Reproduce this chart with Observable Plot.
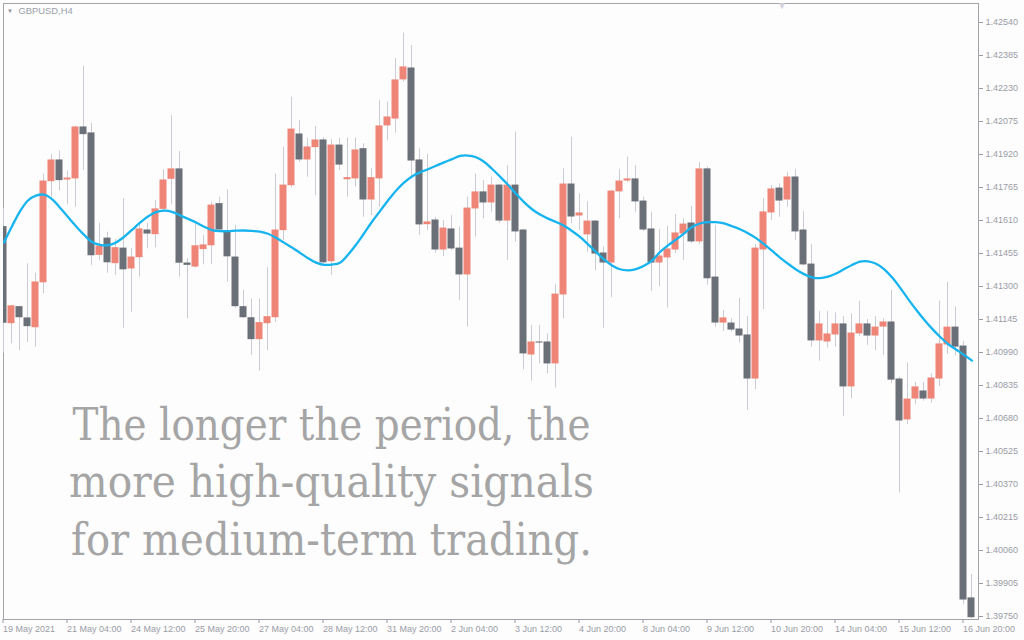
<!DOCTYPE html>
<html><head><meta charset="utf-8">
<script src="https://cdn.jsdelivr.net/npm/d3@7"></script>
<script src="https://cdn.jsdelivr.net/npm/@observablehq/plot@0.6"></script>
<style>
html,body{margin:0;padding:0;background:#fdfdfe;}
#chart{width:1024px;height:640px;overflow:hidden}
</style></head><body><div id="chart"></div>
<script>
const symbol = "GBPUSD,H4";
const captionLines = ["The longer the period, the", "more high-quality signals", "for medium-term trading."];
const dateLabelBars = [0,8,16,24,32,40,48,56,64,72,80,88,96,104,112,120];
const dateLabels = ["19 May 2021","21 May 04:00","24 May 12:00","25 May 20:00","27 May 04:00","28 May 12:00","31 May 20:00","2 Jun 04:00","3 Jun 12:00","4 Jun 20:00","8 Jun 04:00","9 Jun 12:00","10 Jun 20:00","14 Jun 04:00","15 Jun 12:00","16 Jun 20:00"];
const priceTicks = [1.39750,1.39905,1.40060,1.40215,1.40370,1.40525,1.40680,1.40835,1.40990,1.41145,1.41300,1.41455,1.41610,1.41765,1.41920,1.42075,1.42230,1.42385,1.42540];

const open = [
1.41579,1.41123,1.41203,1.41150,1.41104,1.41315,1.41790,1.41892,1.41798,1.41803,
1.42047,1.42019,1.41444,1.41525,1.41405,1.41478,1.41380,1.41433,1.41563,1.41541,
1.41660,1.41801,1.41850,1.41408,1.41389,1.41471,1.41489,1.41687,1.41560,1.41436,
1.41203,1.41151,1.41048,1.41123,1.41151,1.41560,1.41771,1.42014,1.41892,1.41950,
1.41986,1.41414,1.41962,1.41799,1.41803,1.41945,1.41704,1.41803,1.42052,1.42084,
1.42268,1.42324,1.41892,1.41588,1.41610,1.41469,1.41568,1.41478,1.41352,1.41662,
1.41742,1.41690,1.41774,1.41605,1.41774,1.41563,1.40976,1.41037,1.41037,1.40934,
1.41258,1.41779,1.41629,1.41540,1.41605,1.41455,1.41408,1.41742,1.41793,1.41803,
1.41699,1.41568,1.41408,1.41432,1.41469,1.41544,1.41596,1.41507,1.41850,1.41342,
1.41126,1.41126,1.41098,1.41070,1.40863,1.41469,1.41643,1.41760,1.41704,1.41812,
1.41563,1.41403,1.41042,1.41037,1.41070,1.41122,1.40826,1.41075,1.41122,1.41065,
1.41107,1.41131,1.40863,1.40671,1.40769,1.40807,1.40769,1.40863,1.41023,1.41107,
1.41018,1.39835];
const high = [
1.41665,1.41211,1.41207,1.41407,1.41362,1.41829,1.41920,1.41936,1.41842,1.42052,
1.42333,1.42066,1.41597,1.41555,1.41521,1.41712,1.41478,1.41595,1.41596,1.41704,
1.41848,1.42103,1.41934,1.41432,1.41595,1.41540,1.41696,1.41719,1.41754,1.41587,
1.41281,1.41242,1.41242,1.41389,1.41829,1.41954,1.42189,1.42080,1.41996,1.42052,
1.42000,1.41990,1.41996,1.41998,1.41998,1.41970,1.41853,1.42174,1.42166,1.42370,
1.42490,1.42432,1.41947,1.41920,1.41625,1.41610,1.41633,1.41579,1.41719,1.41829,
1.41798,1.41813,1.41779,1.41868,1.42025,1.41568,1.41117,1.41117,1.41078,1.41309,
1.41853,1.42001,1.41736,1.41699,1.41610,1.41485,1.41751,1.41850,1.41907,1.41868,
1.41719,1.41649,1.41568,1.41582,1.41638,1.41618,1.41676,1.41882,1.41861,1.41587,
1.41187,1.41148,1.41245,1.41159,1.41497,1.41712,1.41774,1.41782,1.41835,1.41850,
1.41652,1.41497,1.41183,1.41183,1.41176,1.41159,1.41172,1.41230,1.41146,1.41159,
1.41148,1.41281,1.40874,1.40940,1.40850,1.40850,1.40891,1.41231,1.41320,1.41203,
1.41042,1.39947];
const low = [
1.40987,1.41031,1.40999,1.41038,1.41015,1.41266,1.41719,1.41748,1.41684,1.41672,
1.41845,1.41399,1.41422,1.41362,1.41352,1.41104,1.41179,1.41344,1.41477,1.41482,
1.41652,1.41684,1.41344,1.41148,1.41386,1.41402,1.41403,1.41558,1.41320,1.41197,
1.41150,1.40976,1.40902,1.40999,1.41132,1.41516,1.41764,1.41884,1.41813,1.41727,
1.41405,1.41352,1.41845,1.41719,1.41767,1.41625,1.41633,1.41672,1.41986,1.42020,
1.42260,1.41806,1.41540,1.41563,1.41456,1.41441,1.41469,1.41234,1.41109,1.41532,
1.41618,1.41649,1.41595,1.41422,1.41508,1.40909,1.40855,1.40937,1.40890,1.40823,
1.41148,1.41595,1.41563,1.41461,1.41375,1.41104,1.41248,1.41618,1.41789,1.41649,
1.41558,1.41277,1.41300,1.41199,1.41454,1.41422,1.41501,1.41497,1.41305,1.41109,
1.41089,1.41085,1.41034,1.40718,1.40816,1.41192,1.41610,1.41625,1.41672,1.41516,
1.41396,1.41015,1.40949,1.41011,1.41015,1.40689,1.40774,1.41065,1.41023,1.40999,
1.40976,1.40844,1.40330,1.40652,1.40746,1.40761,1.40752,1.40830,1.40981,1.40976,
1.39806,1.39740];
const close = [
1.41125,1.41207,1.41151,1.41109,1.41319,1.41793,1.41892,1.41795,1.41807,1.42047,
1.42011,1.41442,1.41488,1.41409,1.41480,1.41376,1.41436,1.41568,1.41544,1.41662,
1.41798,1.41850,1.41407,1.41397,1.41489,1.41493,1.41680,1.41563,1.41437,1.41203,
1.41151,1.41048,1.41128,1.41156,1.41563,1.41774,1.42037,1.41892,1.41953,1.41986,
1.41409,1.41962,1.41868,1.41809,1.41939,1.41704,1.41809,1.42052,1.42094,1.42268,
1.42329,1.41887,1.41587,1.41601,1.41469,1.41572,1.41474,1.41352,1.41666,1.41742,
1.41690,1.41774,1.41605,1.41774,1.41554,1.40981,1.41037,1.41032,1.40934,1.41262,
1.41779,1.41624,1.41643,1.41605,1.41450,1.41408,1.41746,1.41793,1.41803,1.41695,
1.41563,1.41408,1.41441,1.41474,1.41549,1.41591,1.41507,1.41850,1.41334,1.41126,
1.41150,1.41093,1.41065,1.40863,1.41478,1.41648,1.41756,1.41699,1.41812,1.41554,
1.41399,1.41042,1.41122,1.41075,1.41122,1.40826,1.41079,1.41122,1.41065,1.41107,
1.41131,1.40858,1.40666,1.40769,1.40826,1.40769,1.40868,1.41028,1.41107,1.41013,
1.39825,1.39742];
const ma = [
1.41507,1.41583,1.41653,1.41704,1.41727,1.41731,1.41710,1.41670,1.41626,1.41583,
1.41543,1.41509,1.41496,1.41494,1.41507,1.41533,1.41566,1.41600,1.41629,1.41649,
1.41656,1.41651,1.41634,1.41618,1.41601,1.41581,1.41565,1.41560,1.41560,1.41562,
1.41563,1.41561,1.41558,1.41548,1.41529,1.41506,1.41483,1.41458,1.41433,1.41412,
1.41402,1.41403,1.41412,1.41449,1.41496,1.41549,1.41604,1.41654,1.41704,1.41750,
1.41788,1.41817,1.41836,1.41851,1.41867,1.41883,1.41898,1.41913,1.41915,1.41907,
1.41886,1.41853,1.41816,1.41778,1.41736,1.41696,1.41663,1.41638,1.41619,1.41603,
1.41585,1.41561,1.41533,1.41498,1.41462,1.41427,1.41399,1.41381,1.41376,1.41382,
1.41397,1.41422,1.41462,1.41493,1.41520,1.41549,1.41579,1.41596,1.41602,1.41602,
1.41596,1.41583,1.41569,1.41550,1.41527,1.41499,1.41468,1.41436,1.41407,1.41380,
1.41358,1.41343,1.41339,1.41346,1.41361,1.41381,1.41401,1.41417,1.41418,1.41407,
1.41382,1.41343,1.41295,1.41242,1.41192,1.41145,1.41102,1.41064,1.41030,1.41004,
1.40979,1.40952];

const bars = open.map((o, i) => ({i, open: o, high: high[i], low: low[i], close: close[i], ma: ma[i], up: close[i] >= o}));
const step = 0.00155 / 33; // price per pixel row in the reference
const UP = "#ee8576", DOWN = "#6b6f77", WICK = "#cbcbd4";
const captionWidths = [518, 525, 521];

const chart = Plot.plot({
  width: 1024, height: 640,
  marginLeft: 3, marginTop: 3, marginRight: 46, marginBottom: 21,
  style: {background: "#fdfdfe", color: "#9a9ca5", fontFamily: "'Liberation Sans', Arial, sans-serif", fontSize: "9px"},
  x: {type: "linear", domain: [-0.0625, 121.8125]},
  y: {type: "linear", domain: [priceTicks[0] - 3 * step, priceTicks[priceTicks.length - 1] + 19 * step]},
  marks: [
    Plot.frame({stroke: "#a3a4aa"}),
    Plot.ruleX(bars, {x: "i", y1: "low", y2: "high", stroke: WICK, strokeWidth: 1, dx: -0.5, clip: true}),
    Plot.rect(bars, {x1: d => d.i - 0.4375, x2: d => d.i + 0.4375, y1: "open", y2: "close", fill: d => d.up ? UP : DOWN, dx: -0.5, dy: -0.5, clip: true}),
    Plot.line(bars, {x: "i", y: "ma", stroke: "#15b4ef", strokeWidth: 2.3, curve: "catmull-rom", clip: true}),
    Plot.axisY({ticks: priceTicks, anchor: "right", tickSize: 4, tickFormat: () => "", label: null}),
    Plot.text(priceTicks, {y: d => d, frameAnchor: "right", dx: 7, textAnchor: "start", lineAnchor: "middle", text: d => d.toFixed(5), fill: "#9a9ca5"}),
    Plot.axisX({ticks: dateLabelBars, anchor: "bottom", tickSize: 4, tickPadding: 2, textAnchor: "start", dx: -1,
      tickFormat: d => dateLabels[dateLabelBars.indexOf(d)], label: null}),
    Plot.text(["▼"], {frameAnchor: "top-left", dx: 6.5, dy: 7.5, text: d => d, textAnchor: "middle", lineAnchor: "middle", fontSize: 6, fill: "#8d9098"}),
    Plot.text(["▼"], {frameAnchor: "top-left", dx: 778.5, dy: 2, text: d => d, textAnchor: "middle", lineAnchor: "middle", fontSize: 10, fill: "#d3d3dd"}),
    Plot.text([symbol], {frameAnchor: "top-left", dx: 15, dy: 4, text: d => d, textAnchor: "start", lineAnchor: "top", fontSize: 9.4, fill: "#9aa0a8"}),
    ...captionLines.map((line, k) => Plot.text([line], {frameAnchor: "top-left", dx: 328, dy: 405 + 57.7 * k, text: d => d,
      textAnchor: "middle", lineAnchor: "top", fontSize: 44, fill: "#a5a5a5", fontFamily: "'DejaVu Serif', serif"}))
  ]
});
document.getElementById("chart").append(chart);

// fit each caption line to the reference line width (horizontal scale around its centre)
const texts = [...chart.querySelectorAll("text")];
captionLines.forEach((line, k) => {
  const t = texts.find(el => el.textContent === line);
  if (!t) return;
  const g = document.createElementNS("http://www.w3.org/2000/svg", "g");
  t.parentNode.insertBefore(g, t);
  g.appendChild(t);
  const bb = g.getBBox();
  const sx = captionWidths[k] / bb.width;
  const cx = bb.x + bb.width / 2;
  g.setAttribute("transform", `translate(${cx},0) scale(${sx},1) translate(${-cx},0)`);
});
</script></body></html>
